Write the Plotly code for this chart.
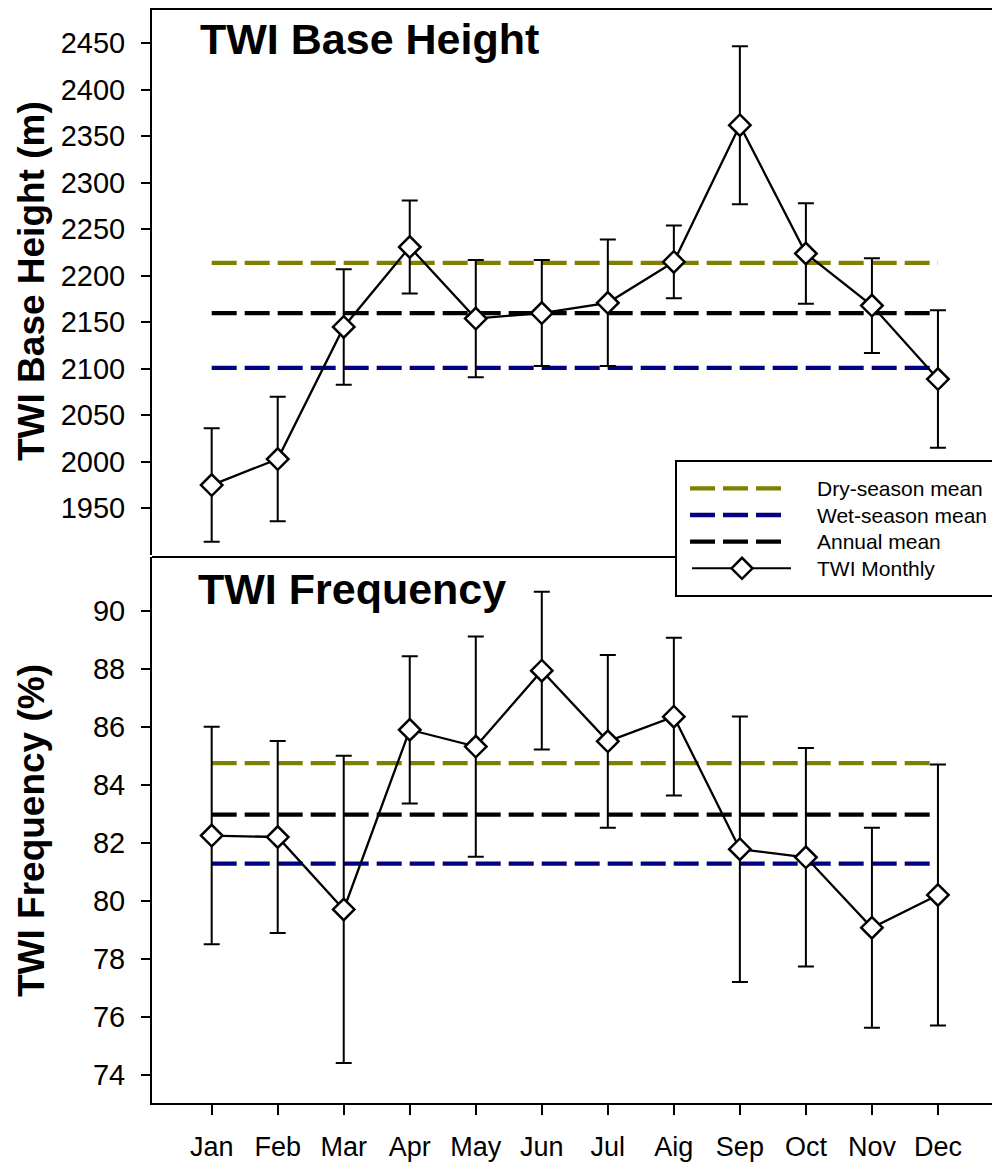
import plotly.graph_objects as go

# ---------------- data ----------------
months = ["Jan", "Feb", "Mar", "Apr", "May", "Jun", "Jul", "Aig", "Sep", "Oct", "Nov", "Dec"]

height_mean = [1975, 2003, 2145, 2231, 2154, 2160, 2171, 2215, 2362, 2224, 2168, 2089]
height_err = [61, 67, 62, 50, 63, 57, 68, 39, 85, 54, 51, 74]
height_dry_mean = 2214
height_wet_mean = 2101
height_annual_mean = 2160

freq_mean = [82.25, 82.2, 79.7, 85.9, 85.32, 87.94, 85.5, 86.35, 81.78, 81.5, 79.07, 80.2]
freq_err = [3.75, 3.31, 5.3, 2.54, 3.8, 2.72, 2.98, 2.72, 4.58, 3.77, 3.45, 4.5]
freq_dry_mean = 84.75
freq_wet_mean = 81.28
freq_annual_mean = 82.97

height_ticks = [1950, 2000, 2050, 2100, 2150, 2200, 2250, 2300, 2350, 2400, 2450]
freq_ticks = [74, 76, 78, 80, 82, 84, 86, 88, 90]

legend_labels = ["Dry-season mean", "Wet-season mean", "Annual mean", "TWI Monthly"]

# ---------------- style ----------------
FONT = "Liberation Sans, Arial, sans-serif"
OLIVE = "#808000"
NAVY = "#000080"
BLACK = "#000000"
OFF = 8                       # page body margin
W, H = 1000 - OFF, 1162 - OFF
ML, MT = 152 - OFF, 0
MB = 1162 - 1103
MR = 0
PW, PH = W - ML - MR, H - MT - MB
PLOT_BOTTOM_PAGE = 1103


def px_x(px):
    """page pixel x -> paper x"""
    return (px - OFF - ML) / PW


def px_y(py):
    """page pixel y -> paper y"""
    return (PLOT_BOTTOM_PAGE - py) / PH


fig = go.Figure()

panels = [
    ("x", "y", height_mean, height_err, height_dry_mean, height_wet_mean, height_annual_mean),
    ("x2", "y2", freq_mean, freq_err, freq_dry_mean, freq_wet_mean, freq_annual_mean),
]
for xa, ya, mean, err, dry, wet, ann in panels:
    ends = [months[0], months[-1]]
    for val, col in [(dry, OLIVE), (wet, NAVY), (ann, BLACK)]:
        fig.add_trace(go.Scatter(
            x=ends, y=[val, val], mode="lines", xaxis=xa, yaxis=ya,
            line=dict(color=col, width=4.3, dash="25px,8px"),
            showlegend=False, hoverinfo="skip"))
    fig.add_trace(go.Scatter(
        x=months, y=mean, mode="lines+markers", xaxis=xa, yaxis=ya,
        line=dict(color=BLACK, width=2.3),
        marker=dict(symbol="diamond", size=16.5, color="white",
                    line=dict(color=BLACK, width=2.5)),
        error_y=dict(type="data", array=err, visible=True,
                     color=BLACK, thickness=2, width=8),
        showlegend=False))

xr = [-0.904, 11.94]
fig.update_layout(
    width=W, height=H,
    margin=dict(l=ML, r=MR, t=MT, b=MB, pad=0),
    paper_bgcolor="white", plot_bgcolor="white",
    font=dict(family=FONT, color=BLACK),
    showlegend=False,
    xaxis=dict(domain=[0, 1], anchor="y", range=xr, showticklabels=False,
               ticks="", showline=False, showgrid=False, zeroline=False,
               categoryorder="array", categoryarray=months),
    yaxis=dict(domain=[548 / PH, 1], anchor="x", range=[1899.8, 2488],
               tickvals=height_ticks, ticks="outside", ticklen=9, tickwidth=2,
               tickcolor=BLACK, showline=True, linewidth=2, linecolor=BLACK,
               showgrid=False, zeroline=False, ticklabelstandoff=10,
               tickfont=dict(size=29, family=FONT)),
    xaxis2=dict(domain=[0, 1], anchor="y2", range=xr,
                ticks="outside", ticklen=10, tickwidth=2, tickcolor=BLACK,
                showline=True, linewidth=2, linecolor=BLACK,
                showgrid=False, zeroline=False, ticklabelstandoff=9,
                categoryorder="array", categoryarray=months,
                tickfont=dict(size=27, family=FONT)),
    yaxis2=dict(domain=[0, 546 / PH], anchor="x2", range=[73.024, 91.86],
                tickvals=freq_ticks, ticks="outside", ticklen=9, tickwidth=2,
                tickcolor=BLACK, showline=True, linewidth=2, linecolor=BLACK,
                showgrid=False, zeroline=False, ticklabelstandoff=10,
                tickfont=dict(size=29, family=FONT)),
)

shapes = []
# top borders of the two panels
shapes.append(dict(type="line", xref="paper", yref="paper", x0=0, x1=1,
                   y0=px_y(8.9), y1=px_y(8.9), line=dict(color=BLACK, width=2)))
shapes.append(dict(type="line", xref="paper", yref="paper", x0=0, x1=1,
                   y0=px_y(557), y1=px_y(557), line=dict(color=BLACK, width=2)))

# manual legend
shapes.append(dict(type="rect", xref="paper", yref="paper",
                   x0=px_x(676), x1=px_x(998), y0=px_y(596), y1=px_y(461),
                   fillcolor="white", line=dict(color=BLACK, width=2)))
rows = [488.3, 515, 541.7, 568.3]
for ry, col in zip(rows[:3], [OLIVE, NAVY, BLACK]):
    shapes.append(dict(type="line", xref="paper", yref="paper",
                       x0=px_x(690), x1=px_x(782), y0=px_y(ry), y1=px_y(ry),
                       line=dict(color=col, width=4.3, dash="25px,8px")))
shapes.append(dict(type="line", xref="paper", yref="paper",
                   x0=px_x(692), x1=px_x(791), y0=px_y(rows[3]), y1=px_y(rows[3]),
                   line=dict(color=BLACK, width=2)))
shapes.append(dict(type="path", xref="paper", yref="paper",
                   xsizemode="pixel", ysizemode="pixel",
                   xanchor=px_x(742), yanchor=px_y(rows[3]),
                   path="M -10.5 0 L 0 10.5 L 10.5 0 L 0 -10.5 Z",
                   fillcolor="white", line=dict(color=BLACK, width=2.5)))
fig.update_layout(shapes=shapes)

annotations = []
for ry, lab in zip(rows, legend_labels):
    annotations.append(dict(text=lab, xref="paper", yref="paper",
                            x=px_x(815), y=px_y(ry), xanchor="left", yanchor="middle",
                            showarrow=False, font=dict(size=21, family=FONT)))
# panel titles
annotations.append(dict(text="<b>TWI Base Height</b>", xref="paper", yref="paper",
                        x=px_x(198), y=px_y(39), xanchor="left", yanchor="middle",
                        showarrow=False, font=dict(size=43, family=FONT)))
annotations.append(dict(text="<b>TWI Frequency</b>", xref="paper", yref="paper",
                        x=px_x(196), y=px_y(589), xanchor="left", yanchor="middle",
                        showarrow=False, font=dict(size=43, family=FONT)))
# y-axis titles
annotations.append(dict(text="<b>TWI Base Height (m)</b>", xref="paper", yref="paper",
                        x=px_x(31), y=px_y(281), xanchor="center", yanchor="middle",
                        textangle=-90, showarrow=False, font=dict(size=37, family=FONT)))
annotations.append(dict(text="<b>TWI Frequency (%)</b>", xref="paper", yref="paper",
                        x=px_x(31), y=px_y(831), xanchor="center", yanchor="middle",
                        textangle=-90, showarrow=False, font=dict(size=37, family=FONT)))
fig.update_layout(annotations=annotations)

fig.write_html("out.html")
